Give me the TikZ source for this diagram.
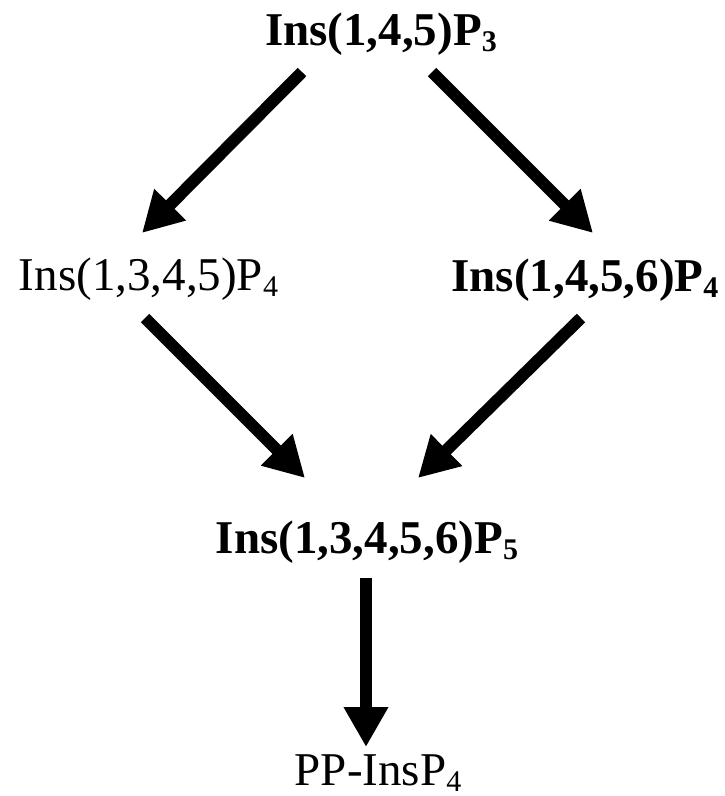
\documentclass[tikz,border=0pt]{standalone}
\usepackage{fontspec}
\setmainfont{Liberation Serif}
\usetikzlibrary{arrows.meta}
% subscript digit, lowered below the baseline
\newcommand{\sbs}[1]{\raisebox{-6pt}{\fontsize{30}{30}\selectfont #1}}
\tikzset{
  lbl/.style={anchor=base, inner sep=0pt, font=\fontsize{47}{50}\selectfont},
  blbl/.style={lbl, font=\fontsize{47}{50}\selectfont\bfseries},
  flow/.style={line width=12pt, -{Triangle[length=40pt,width=42pt]}}
}
\begin{document}
\begin{tikzpicture}[x=1pt,y=-1pt]
  \useasboundingbox (0,0) rectangle (725,796);
  \node[blbl] (ip3)  at (381,45)  {Ins(1,4,5)P\sbs{3}};
  \node[lbl]  (ip4a) at (148.5,290) {Ins(1,3,4,5)P\sbs{4}};
  \node[blbl] (ip4b) at (585,291) {Ins(1,4,5,6)P\sbs{4}};
  \node[blbl] (ip5)  at (367,553) {Ins(1,3,4,5,6)P\sbs{5}};
  \node[lbl]  (pp)   at (378,785) {PP-InsP\sbs{4}};

  \draw[flow] ([shift={(-79,27)}]ip3.base) -- ([shift={(-6.5,-57)}]ip4a.base);
  \draw[flow] ([shift={(51,27)}]ip3.base) -- ([shift={(8,-58)}]ip4b.base);
  \draw[flow] ([shift={(-3.5,28)}]ip4a.base) -- ([shift={(-62,-75)}]ip5.base);
  \draw[flow] ([shift={(-4,27)}]ip4b.base) -- ([shift={(51,-75)}]ip5.base);
  \draw[flow] ([shift={(-1,25)}]ip5.base) -- ([shift={(-12,-38)}]pp.base);
\end{tikzpicture}
\end{document}
